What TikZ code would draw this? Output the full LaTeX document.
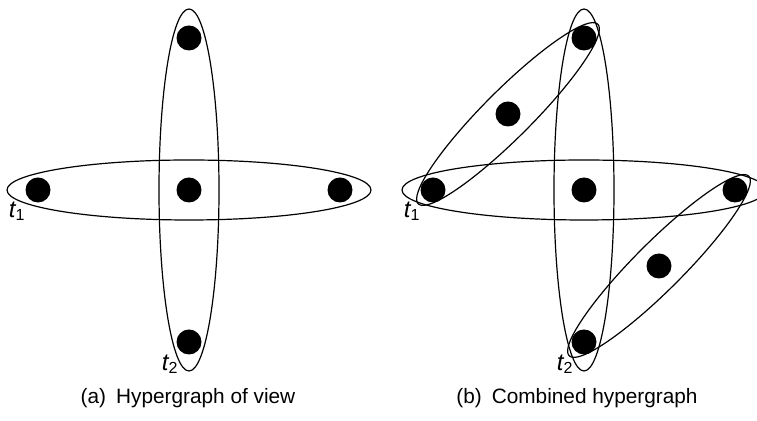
\documentclass[tikz,border=0pt]{standalone}
\usepackage{fontspec}
\setmainfont{Liberation Sans}
\usetikzlibrary{positioning}
\tikzset{
  vertex/.style={circle,fill=black,inner sep=0pt,minimum size=12.5pt},
  hedge/.style={draw=black,line width=0.6pt},
  tlabel/.style={inner sep=0.5pt,font=\fontsize{12}{14}\selectfont},
  caption/.style={inner sep=0pt,font=\fontsize{10.4}{12}\selectfont}
}

\begin{document}
\begin{tikzpicture}[x=0.5pt,y=-0.5pt]
\useasboundingbox (0,0) rectangle (757,421);
% (a) one view
\node[vertex] (a1) at (38,190) {};
\node[vertex] (a2) at (189,190) {};
\node[vertex] (a3) at (340,190) {};
\node[vertex] (a4) at (189,38) {};
\node[vertex] (a5) at (189,342) {};
\draw[hedge] (a2.center) ellipse [x radius=182, y radius=30];
\draw[hedge] (a2.center) ellipse [x radius=30, y radius=181];
\node[tlabel,below left=0.5pt and 1pt of a1] (ta1) {\itshape t\textsubscript{\upshape 1}};
\node[tlabel,below left=1pt and 0pt of a5] (ta2) {\itshape t\textsubscript{\upshape 2}};
\node[caption] (capa) at (188,398) {(a)\hspace{5pt}Hypergraph of view};
% (b) combined
\node[vertex] (b1) at (433,190) {};
\node[vertex] (b2) at (584,190) {};
\node[vertex] (b3) at (735,190) {};
\node[vertex] (b4) at (584,38) {};
\node[vertex] (b5) at (584,342) {};
\node[vertex] (b6) at (508,114) {};
\node[vertex] (b7) at (659,266) {};
\draw[hedge] (b2.center) ellipse [x radius=182, y radius=30];
\draw[hedge] (b2.center) ellipse [x radius=30, y radius=181];
\draw[hedge,rotate around={45:(b6.center)}] (b6.center) ellipse [x radius=127, y radius=24];
\draw[hedge,rotate around={45:(b7.center)}] (b7.center) ellipse [x radius=127, y radius=24];
\node[tlabel,below left=0.5pt and 1pt of b1] (tb1) {\itshape t\textsubscript{\upshape 1}};
\node[tlabel,below left=1pt and 0pt of b5] (tb2) {\itshape t\textsubscript{\upshape 2}};
\node[caption] (capb) at (577,398) {(b)\hspace{5pt}Combined hypergraph};
\end{tikzpicture}
\end{document}
